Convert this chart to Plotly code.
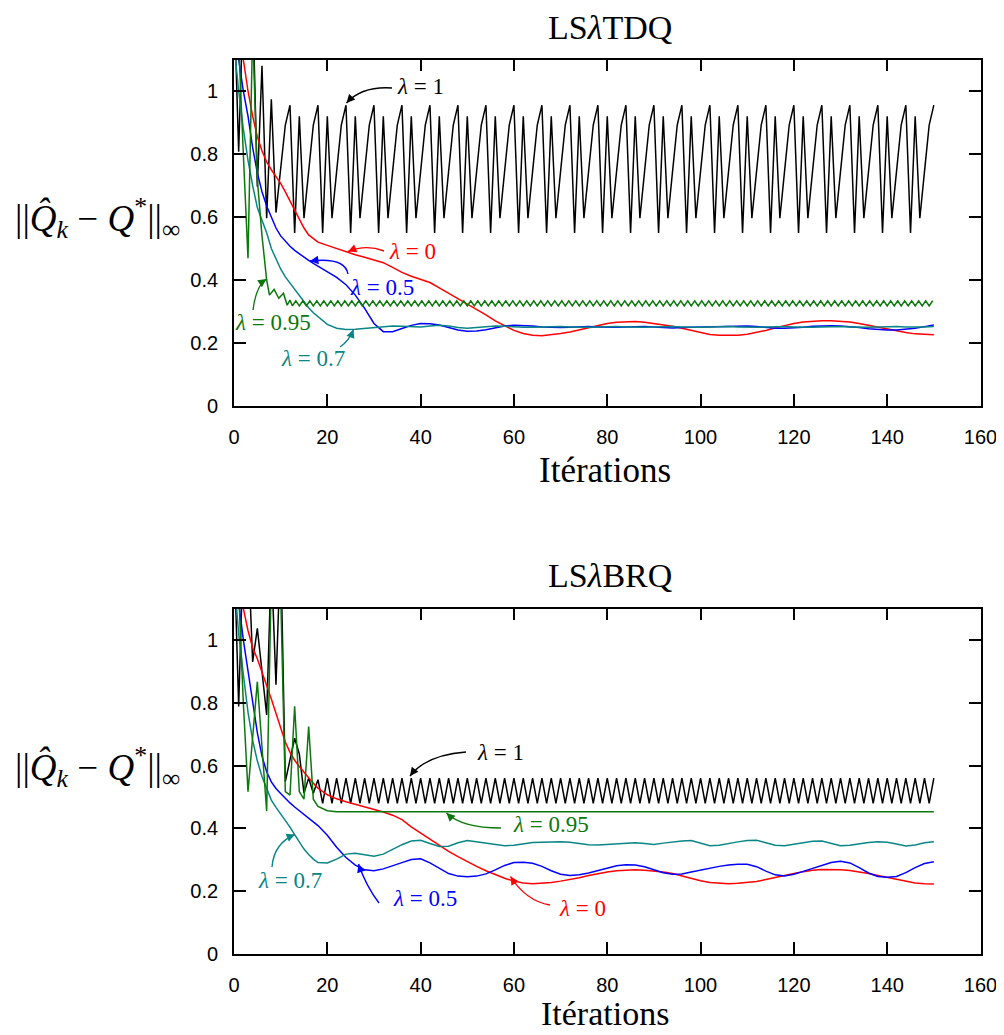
import plotly.graph_objects as go

# ---------------- data ----------------
iters = list(range(151))
iters_grid = list(range(0, 19)) + list(range(20, 151, 2))
x_ticks = [0, 20, 40, 60, 80, 100, 120, 140, 160]
y_ticks = [0, 0.2, 0.4, 0.6, 0.8, 1.0]
y_ticklabels = ["0", "0.2", "0.4", "0.6", "0.8", "1"]

# ---- LSλTDQ (top) ----
top_black = [
    1.30, 0.807, 1.30, 1.30, 1.30, 0.696, 1.08, 0.596, 0.974, 0.614, 0.750, 0.892,
    0.955, 0.549, 0.920, 0.596, 0.745, 0.892,
    0.955, 0.549, 0.920, 0.596, 0.745, 0.892,
    0.955, 0.549, 0.920, 0.596, 0.745, 0.892,
    0.955, 0.549, 0.920, 0.596, 0.745, 0.892,
    0.955, 0.549, 0.920, 0.596, 0.745, 0.892,
    0.955, 0.549, 0.920, 0.596, 0.745, 0.892,
    0.955, 0.549, 0.920, 0.596, 0.745, 0.892,
    0.955, 0.549, 0.920, 0.596, 0.745, 0.892,
    0.955, 0.549, 0.920, 0.596, 0.745, 0.892,
    0.955, 0.549, 0.920, 0.596, 0.745, 0.892,
    0.955, 0.549, 0.920, 0.596, 0.745, 0.892,
    0.955, 0.549, 0.920, 0.596, 0.745, 0.892,
    0.955, 0.549, 0.920, 0.596, 0.745, 0.892,
    0.955, 0.549, 0.920, 0.596, 0.745, 0.892,
    0.955, 0.549, 0.920, 0.596, 0.745, 0.892,
    0.955, 0.549, 0.920, 0.596, 0.745, 0.892,
    0.955, 0.549, 0.920, 0.596, 0.745, 0.892,
    0.955, 0.549, 0.920, 0.596, 0.745, 0.892,
    0.955, 0.549, 0.920, 0.596, 0.745, 0.892,
    0.955, 0.549, 0.920, 0.596, 0.745, 0.892,
    0.955, 0.549, 0.920, 0.596, 0.745, 0.892,
    0.955, 0.549, 0.920, 0.596, 0.745, 0.892,
    0.955, 0.549, 0.920, 0.596, 0.745, 0.892,
    0.955,
]

top_red = [
    1.45, 1.25, 1.10, 1.00, 0.92, 0.855, 0.81, 0.775, 0.75, 0.728, 0.707, 0.68, 0.65, 0.622, 0.595, 0.565, 0.543, 0.53, 0.52,
    0.51, 0.50, 0.488, 0.48, 0.472, 0.463, 0.455, 0.44, 0.424, 0.412,
    0.403, 0.392, 0.375, 0.358, 0.341, 0.325, 0.307, 0.289, 0.27, 0.254,
    0.24, 0.23, 0.225, 0.223, 0.226, 0.23, 0.235, 0.242, 0.25, 0.256,
    0.262, 0.266, 0.268, 0.268, 0.266, 0.262, 0.258, 0.253, 0.247, 0.24,
    0.233, 0.227, 0.225, 0.224, 0.225, 0.228, 0.233, 0.24, 0.248, 0.256,
    0.262, 0.267, 0.27, 0.271, 0.271, 0.27, 0.267, 0.262, 0.256, 0.25,
    0.244, 0.238, 0.233, 0.229, 0.227, 0.226,
]

top_blue = [
    1.30, 1.10, 1.00, 0.92, 0.82, 0.74, 0.68, 0.635, 0.60, 0.565, 0.54, 0.522, 0.507, 0.494, 0.483, 0.472, 0.462, 0.453, 0.444,
    0.428, 0.408, 0.385, 0.352, 0.31, 0.262, 0.236, 0.236, 0.246, 0.256,
    0.262, 0.261, 0.257, 0.249, 0.241, 0.237, 0.238, 0.242, 0.249, 0.254,
    0.256, 0.256, 0.254, 0.251, 0.249, 0.249, 0.25, 0.252, 0.252, 0.251,
    0.25, 0.25, 0.251, 0.252, 0.252, 0.251, 0.249, 0.248, 0.249, 0.25,
    0.25, 0.25, 0.251, 0.253, 0.254, 0.254, 0.252, 0.249, 0.247, 0.247,
    0.248, 0.25, 0.253, 0.255, 0.255, 0.254, 0.252, 0.249, 0.245, 0.242,
    0.241, 0.241, 0.243, 0.247, 0.252, 0.257,
]

top_teal = [
    1.15, 1.00, 0.88, 0.78, 0.70, 0.63, 0.59, 0.55, 0.50, 0.465, 0.435, 0.41, 0.39, 0.37, 0.35, 0.33, 0.312, 0.296, 0.283,
    0.259, 0.247, 0.243, 0.244, 0.247, 0.25, 0.252, 0.254, 0.253, 0.251,
    0.251, 0.254, 0.256, 0.254, 0.249, 0.247, 0.249, 0.252, 0.254, 0.253,
    0.251, 0.25, 0.25, 0.251, 0.252, 0.252, 0.251, 0.25, 0.25, 0.251,
    0.252, 0.252, 0.251, 0.25, 0.25, 0.251, 0.252, 0.252, 0.251, 0.25,
    0.25, 0.251, 0.252, 0.252, 0.251, 0.25, 0.25, 0.251, 0.252, 0.252,
    0.251, 0.25, 0.25, 0.251, 0.252, 0.252, 0.251, 0.25, 0.25, 0.251,
    0.252, 0.252, 0.251, 0.25, 0.251, 0.252,
]

top_green_x_start = [0, 1, 2, 3, 4, 5, 6, 7, 7.6, 8.6, 9.6, 10.6, 11.4, 12.0]
top_green_start = [1.40, 1.15, 0.80, 0.469, 1.20, 0.72, 0.54, 0.40, 0.352, 0.370, 0.342, 0.358, 0.320, 0.336]
top_green_zigzag = [
    0.318, 0.334, 0.318, 0.334, 0.318, 0.334, 0.318, 0.334, 0.318, 0.334, 0.318, 0.334, 0.318, 0.334, 0.318, 0.334, 0.318, 0.334, 0.318, 0.334,
    0.318, 0.334, 0.318, 0.334, 0.318, 0.334, 0.318, 0.334, 0.318, 0.334, 0.318, 0.334, 0.318, 0.334, 0.318, 0.334, 0.318, 0.334, 0.318, 0.334,
    0.318, 0.334, 0.318, 0.334, 0.318, 0.334, 0.318, 0.334, 0.318, 0.334, 0.318, 0.334, 0.318, 0.334, 0.318, 0.334, 0.318, 0.334, 0.318, 0.334,
    0.318, 0.334, 0.318, 0.334, 0.318, 0.334, 0.318, 0.334, 0.318, 0.334, 0.318, 0.334, 0.318, 0.334, 0.318, 0.334, 0.318, 0.334, 0.318, 0.334,
    0.318, 0.334, 0.318, 0.334, 0.318, 0.334, 0.318, 0.334, 0.318, 0.334, 0.318, 0.334, 0.318, 0.334, 0.318, 0.334, 0.318, 0.334, 0.318, 0.334,
    0.318, 0.334, 0.318, 0.334, 0.318, 0.334, 0.318, 0.334, 0.318, 0.334, 0.318, 0.334, 0.318, 0.334, 0.318, 0.334, 0.318, 0.334, 0.318, 0.334,
    0.318, 0.334, 0.318, 0.334, 0.318, 0.334, 0.318, 0.334, 0.318, 0.334, 0.318, 0.334, 0.318, 0.334, 0.318, 0.334, 0.318, 0.334, 0.318, 0.334,
    0.318, 0.334, 0.318, 0.334, 0.318, 0.334, 0.318, 0.334, 0.318, 0.334, 0.318, 0.334, 0.318, 0.334, 0.318, 0.334, 0.318, 0.334, 0.318, 0.334,
    0.318, 0.334, 0.318, 0.334, 0.318, 0.334, 0.318, 0.334, 0.318, 0.334, 0.318, 0.334, 0.318, 0.334, 0.318, 0.334, 0.318, 0.334, 0.318, 0.334,
    0.318, 0.334, 0.318, 0.334,
]
top_green_zigzag_x0 = 12.5
top_green_zigzag_step = 0.75

# ---- LSλBRQ (bottom) ----
bot_black = [
    1.30, 0.788, 1.30, 1.30, 0.930, 1.037, 0.900, 0.761, 1.25, 0.857,
    1.30, 0.549, 0.618, 0.687, 0.637, 0.512, 0.560, 0.512, 0.555, 0.480,
    0.560, 0.480, 0.560, 0.480, 0.560, 0.480, 0.560, 0.480, 0.560, 0.480,
    0.560, 0.480, 0.560, 0.480, 0.560, 0.480, 0.560, 0.480, 0.560, 0.480,
    0.560, 0.480, 0.560, 0.480, 0.560, 0.480, 0.560, 0.480, 0.560, 0.480,
    0.560, 0.480, 0.560, 0.480, 0.560, 0.480, 0.560, 0.480, 0.560, 0.480,
    0.560, 0.480, 0.560, 0.480, 0.560, 0.480, 0.560, 0.480, 0.560, 0.480,
    0.560, 0.480, 0.560, 0.480, 0.560, 0.480, 0.560, 0.480, 0.560, 0.480,
    0.560, 0.480, 0.560, 0.480, 0.560, 0.480, 0.560, 0.480, 0.560, 0.480,
    0.560, 0.480, 0.560, 0.480, 0.560, 0.480, 0.560, 0.480, 0.560, 0.480,
    0.560, 0.480, 0.560, 0.480, 0.560, 0.480, 0.560, 0.480, 0.560, 0.480,
    0.560, 0.480, 0.560, 0.480, 0.560, 0.480, 0.560, 0.480, 0.560, 0.480,
    0.560, 0.480, 0.560, 0.480, 0.560, 0.480, 0.560, 0.480, 0.560, 0.480,
    0.560, 0.480, 0.560, 0.480, 0.560, 0.480, 0.560, 0.480, 0.560, 0.480,
    0.560, 0.480, 0.560, 0.480, 0.560, 0.480, 0.560, 0.480, 0.560, 0.480,
    0.560,
]

bot_green = [
    1.30, 1.15, 0.80, 0.517, 0.690, 0.867, 0.660, 0.455, 1.20, 1.30, 1.15, 0.517, 0.506, 0.789, 0.517, 0.493, 0.724, 0.493, 0.470,
    0.456, 0.453, 0.453, 0.453, 0.453, 0.453, 0.453, 0.453,
    0.453, 0.453, 0.453, 0.453, 0.453, 0.453, 0.453, 0.453,
    0.453, 0.453, 0.453, 0.453, 0.453, 0.453, 0.453, 0.453,
    0.453, 0.453, 0.453, 0.453, 0.453, 0.453, 0.453, 0.453,
    0.453, 0.453, 0.453, 0.453, 0.453, 0.453, 0.453, 0.453,
    0.453, 0.453, 0.453, 0.453, 0.453, 0.453, 0.453, 0.453,
    0.453, 0.453, 0.453, 0.453, 0.453, 0.453, 0.453, 0.453,
    0.453, 0.453, 0.453, 0.453, 0.453, 0.453, 0.453, 0.453,
    0.453, 0.453, 0.453,
]

bot_red = [
    1.35, 1.22, 1.10, 1.03, 0.975, 0.94, 0.90, 0.855, 0.812, 0.765, 0.715, 0.675, 0.642, 0.617, 0.597, 0.578, 0.561, 0.544, 0.528,
    0.507, 0.494, 0.485, 0.477, 0.469, 0.461, 0.452, 0.442, 0.428, 0.405,
    0.385, 0.365, 0.346, 0.327, 0.31, 0.294, 0.279, 0.265, 0.252, 0.241,
    0.232, 0.226, 0.224, 0.225, 0.228, 0.232, 0.237, 0.243, 0.25, 0.256,
    0.261, 0.265, 0.267, 0.268, 0.267, 0.265, 0.261, 0.256, 0.248, 0.24,
    0.233, 0.228, 0.225, 0.224, 0.225, 0.227, 0.231, 0.237, 0.244, 0.25,
    0.256, 0.262, 0.267, 0.269, 0.269, 0.268, 0.266, 0.262, 0.256, 0.25,
    0.244, 0.237, 0.231, 0.226, 0.224, 0.223,
]

bot_blue = [
    1.30, 1.12, 1.00, 0.905, 0.80, 0.705, 0.63, 0.58, 0.548, 0.527, 0.511, 0.495, 0.481, 0.468, 0.456, 0.445, 0.433, 0.421, 0.409,
    0.378, 0.34, 0.307, 0.283, 0.268, 0.265, 0.271, 0.28, 0.291, 0.301,
    0.303, 0.29, 0.272, 0.256, 0.248, 0.246, 0.248, 0.255, 0.268, 0.282,
    0.291, 0.292, 0.289, 0.279, 0.265, 0.254, 0.25, 0.252, 0.258, 0.266,
    0.274, 0.281, 0.284, 0.283, 0.278, 0.268, 0.259, 0.254, 0.255, 0.261,
    0.267, 0.274, 0.279, 0.283, 0.286, 0.286, 0.278, 0.264, 0.252, 0.248,
    0.254, 0.263, 0.272, 0.282, 0.291, 0.295, 0.29, 0.275, 0.258, 0.247,
    0.244, 0.247, 0.259, 0.275, 0.288, 0.294,
]

bot_teal = [
    1.20, 1.02, 0.89, 0.77, 0.68, 0.615, 0.565, 0.525, 0.49, 0.467, 0.447, 0.426, 0.404, 0.38, 0.356, 0.334, 0.317, 0.302, 0.291,
    0.29, 0.302, 0.318, 0.321, 0.317, 0.311, 0.318, 0.333, 0.348, 0.36,
    0.362, 0.352, 0.342, 0.343, 0.354, 0.361, 0.357, 0.352, 0.348, 0.345,
    0.346, 0.351, 0.355, 0.356, 0.357, 0.357, 0.356, 0.352, 0.348, 0.347,
    0.349, 0.352, 0.354, 0.354, 0.352, 0.349, 0.353, 0.357, 0.36, 0.361,
    0.353, 0.345, 0.346, 0.352, 0.357, 0.361, 0.362, 0.354, 0.346, 0.345,
    0.35, 0.355, 0.359, 0.36, 0.353, 0.345, 0.346, 0.351, 0.355, 0.357,
    0.356, 0.35, 0.344, 0.347, 0.354, 0.357,
]

# ---------------- styling ----------------
BLACK = "#000000"
RED = "#ff0000"
BLUE = "#0000ff"
GREEN = "#0a780a"
TEAL = "#0a8585"
SERIF = "Liberation Serif, Times New Roman, serif"
SANS = "Liberation Sans, Arial, sans-serif"

OFF = 8                          # page body margin of the html page
W, H = 1004 - OFF, 1035 - OFF    # figure size so that it ends at the window edge
PX0, PX1 = 234.0, 980.5          # page x pixel of 0 and 160
PLOTS = {
    "top": dict(xa="x", ya="y", y0=406.0, y1=59.5),     # page y pixel of 0 and 1.1
    "bot": dict(xa="x2", ya="y2", y0=954.0, y1=608.5),
}


def fx(px):
    return (px - OFF) / W


def fy(py):
    return 1 - (py - OFF) / H


fig = go.Figure()


def add_line(x, y, color, xa, ya):
    fig.add_trace(go.Scatter(x=x, y=y, mode="lines",
                             line=dict(color=color, width=1.5),
                             xaxis=xa, yaxis=ya, showlegend=False,
                             hoverinfo="skip"))


top_green_x = top_green_x_start + [top_green_zigzag_x0 + top_green_zigzag_step * k
                                   for k in range(len(top_green_zigzag))]
top_green = top_green_start + top_green_zigzag

add_line(iters, top_black, BLACK, "x", "y")
add_line(iters_grid, top_red, RED, "x", "y")
add_line(iters_grid, top_blue, BLUE, "x", "y")
add_line(iters_grid, top_teal, TEAL, "x", "y")
add_line(top_green_x, top_green, GREEN, "x", "y")

add_line(iters, bot_black, BLACK, "x2", "y2")
add_line(iters_grid, bot_red, RED, "x2", "y2")
add_line(iters_grid, bot_blue, BLUE, "x2", "y2")
add_line(iters_grid, bot_teal, TEAL, "x2", "y2")
add_line(iters_grid, bot_green, GREEN, "x2", "y2")

xdom = [fx(PX0), fx(PX1)]
axis_common = dict(showline=True, linecolor="black", linewidth=1.8, mirror="ticks",
                   ticks="inside", ticklen=12, tickwidth=1.5, tickcolor="black",
                   showgrid=False, zeroline=False, automargin=False,
                   tickfont=dict(family=SANS, size=20, color="black"))

top, bot = PLOTS["top"], PLOTS["bot"]
fig.update_layout(
    width=W, height=H,
    margin=dict(l=0, r=0, t=0, b=0),
    paper_bgcolor="white", plot_bgcolor="white",
    xaxis=dict(domain=xdom, range=[0, 160], tickvals=x_ticks, anchor="y",
               ticklabelstandoff=12, **axis_common),
    yaxis=dict(domain=[fy(top["y0"]), fy(top["y1"])], range=[0, 1.1],
               tickvals=y_ticks, ticktext=y_ticklabels, anchor="x",
               ticklabelstandoff=10, **axis_common),
    xaxis2=dict(domain=xdom, range=[0, 160], tickvals=x_ticks, anchor="y2",
                ticklabelstandoff=12, **axis_common),
    yaxis2=dict(domain=[fy(bot["y0"]), fy(bot["y1"])], range=[0, 1.1],
                tickvals=y_ticks, ticktext=y_ticklabels, anchor="x2",
                ticklabelstandoff=10, **axis_common),
)

ylabel = "||<i>Q̂</i><sub><i>k</i></sub> − <i>Q</i><sup>*</sup>||<sub>∞</sub>"


def paper_text(px, py, text, size, color="black"):
    fig.add_annotation(x=fx(px), y=fy(py), xref="paper", yref="paper",
                       text=text, showarrow=False, xanchor="center", yanchor="middle",
                       borderpad=0,
                       font=dict(family=SERIF, size=size, color=color))


paper_text(610, 28, "LS<i>λ</i>TDQ", 34)
paper_text(605, 470, "Itérations", 35)
paper_text(97, 218, ylabel, 37)
paper_text(610, 575, "LS<i>λ</i>BRQ", 34)
paper_text(605, 1013, "Itérations", 34)
paper_text(97, 767, ylabel, 37)


# ---- curved arrows for the λ labels (positions in page pixels) ----
def to_data(plot, px, py):
    p = PLOTS[plot]
    xd = (px - PX0) * 160.0 / (PX1 - PX0)
    yd = (p["y0"] - py) * 1.1 / (p["y0"] - p["y1"])
    return xd, yd


def lam_label(plot, text_px, tail, ctrl, tip, text, color):
    p = PLOTS[plot]
    x0, y0 = to_data(plot, *tail)
    cx, cy = to_data(plot, *ctrl)
    x1, y1 = to_data(plot, *tip)
    fig.add_shape(type="path", xref=p["xa"], yref=p["ya"],
                  path=f"M {x0},{y0} Q {cx},{cy} {x1},{y1}",
                  line=dict(color=color, width=1.4))
    dx, dy = ctrl[0] - tip[0], ctrl[1] - tip[1]
    n = (dx * dx + dy * dy) ** 0.5
    fig.add_annotation(x=x1, y=y1, xref=p["xa"], yref=p["ya"],
                       ax=dx / n * 9, ay=dy / n * 9, text="", showarrow=True,
                       arrowhead=2, arrowsize=1.2, arrowwidth=1.4,
                       arrowcolor=color, standoff=0)
    paper_text(text_px[0], text_px[1], text, 23, color)


lam_label("top", (420, 87), (392, 88), (362, 86), (346.5, 103), "<i>λ</i> = 1", BLACK)
lam_label("top", (412, 252), (384, 251), (366, 244), (348, 251.5), "<i>λ</i> = 0", RED)
lam_label("top", (382, 287), (348, 274), (345, 257), (310, 261), "<i>λ</i> = 0.5", BLUE)
lam_label("top", (273, 322), (253, 310), (256, 286), (266.5, 279), "<i>λ</i> = 0.95", GREEN)
lam_label("top", (313, 358), (340, 347), (349, 341), (353.5, 329.5), "<i>λ</i> = 0.7", TEAL)

lam_label("bot", (500, 752), (466, 752), (426, 755), (410, 776), "<i>λ</i> = 1", BLACK)
lam_label("bot", (551, 824), (501, 828), (462, 828), (446.5, 813), "<i>λ</i> = 0.95", GREEN)
lam_label("bot", (290, 880), (272, 867), (274, 843), (295, 834.5), "<i>λ</i> = 0.7", TEAL)
lam_label("bot", (425, 898), (379, 903), (366, 886), (358.5, 864), "<i>λ</i> = 0.5", BLUE)
lam_label("bot", (582, 908), (550, 905), (526, 901), (510.5, 876.5), "<i>λ</i> = 0", RED)

fig.write_html("out.html")
